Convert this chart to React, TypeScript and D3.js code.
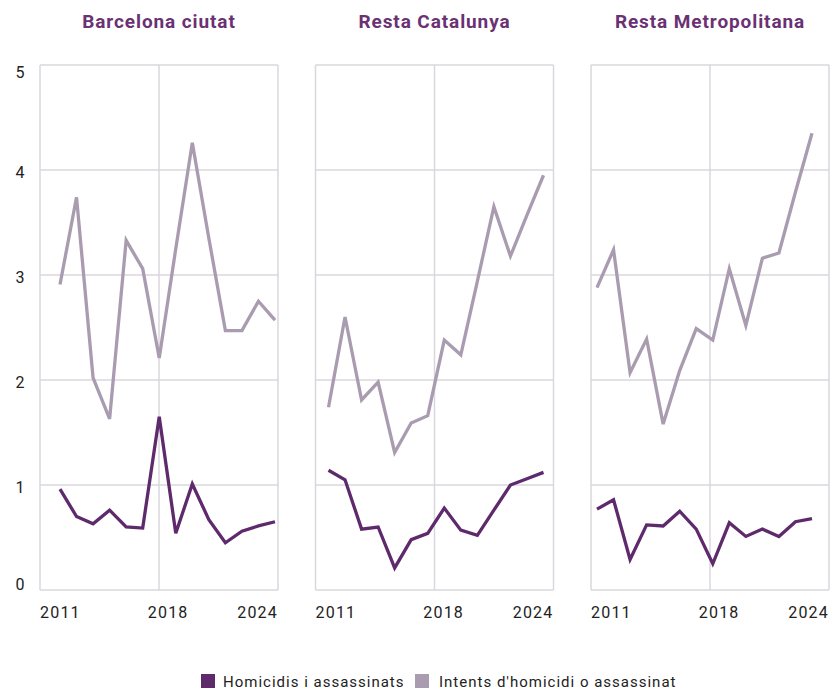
import React, { useEffect, useRef } from 'react';
import * as d3 from 'd3';

// data (rates per 100.000 inhabitants)
const years = [2011, 2012, 2013, 2014, 2015, 2016, 2017, 2018, 2019, 2020, 2021, 2022, 2023, 2024];
const regions = ['Barcelona ciutat', 'Resta Catalunya', 'Resta Metropolitana'];
const seriesNames = ['Homicidis i assassinats', "Intents d'homicidi o assassinat"];

const homicidisBcn = [0.96, 0.7, 0.63, 0.76, 0.6, 0.59, 1.65, 0.54, 1.01, 0.67, 0.45, 0.56, 0.61, 0.65];
const intentsBcn = [2.91, 3.74, 2.02, 1.63, 3.33, 3.06, 2.21, 3.25, 4.26, 3.35, 2.47, 2.47, 2.75, 2.57];
const homicidisCat = [1.14, 1.05, 0.58, 0.6, 0.21, 0.48, 0.54, 0.78, 0.57, 0.52, 0.76, 1.0, 1.06, 1.12];
const intentsCat = [1.74, 2.6, 1.81, 1.98, 1.31, 1.59, 1.66, 2.38, 2.24, 2.94, 3.65, 3.18, 3.57, 3.95];
const homicidisMet = [0.77, 0.86, 0.29, 0.62, 0.61, 0.75, 0.58, 0.25, 0.64, 0.51, 0.58, 0.51, 0.65, 0.68];
const intentsMet = [2.88, 3.24, 2.07, 2.39, 1.58, 2.09, 2.49, 2.38, 3.06, 2.52, 3.16, 3.21, 3.79, 4.35];

const yTicks = [0, 1, 2, 3, 4, 5];
const xTickYears = [2011, 2018, 2024];

const App = () => {
  const svgRef = useRef(null);

  useEffect(() => {
    const svg = d3.select(svgRef.current);
    svg.selectAll('*').remove();

    const W = 832;
    const H = 691;
    const font = 'Roboto, "Noto Sans", sans-serif';
    const purple = '#5e2a6c';
    const grey = '#a99bb0';
    const gridColor = '#dad6de';
    const titleColor = '#6a3173';

    svg.attr('width', W).attr('height', H);

    const panelW = 238;
    const panelX = d3.scalePoint().domain(regions).range([40, 591]);
    const yScale = d3.scaleLinear().domain([0, 5]).range([590, 65]);

    const panelData = [
      [homicidisBcn, intentsBcn],
      [homicidisCat, intentsCat],
      [homicidisMet, intentsMet],
    ];
    const colors = [purple, grey];

    regions.forEach((region, i) => {
      const left = panelX(region);
      const g = svg.append('g');

      // frame scale used for the tick labels
      const frameX = d3.scaleLinear().domain([years[0], years[years.length - 1]]).range([left, left + panelW]);
      // lines sit a bit shifted inside each frame, like in the original
      const shift = 20 - 7 * i;
      const lineX = d3.scaleLinear()
        .domain([years[0], years[years.length - 1]])
        .range([left + shift, left + shift + 215]);

      // horizontal gridlines
      g.selectAll('.hgrid')
        .data(yTicks)
        .enter()
        .append('line')
        .attr('x1', left)
        .attr('x2', left + panelW)
        .attr('y1', (d) => yScale(d))
        .attr('y2', (d) => yScale(d))
        .attr('stroke', gridColor)
        .attr('stroke-width', 1.5);

      // vertical gridlines: edges and middle
      g.selectAll('.vgrid')
        .data([0, 0.5, 1])
        .enter()
        .append('line')
        .attr('x1', (d) => left + d * panelW)
        .attr('x2', (d) => left + d * panelW)
        .attr('y1', yScale(0))
        .attr('y2', yScale(5))
        .attr('stroke', gridColor)
        .attr('stroke-width', 1.5);

      // title
      g.append('text')
        .attr('x', left + panelW / 2)
        .attr('y', 28)
        .attr('text-anchor', 'middle')
        .attr('font-family', font)
        .attr('font-weight', 700)
        .attr('font-size', 19)
        .attr('letter-spacing', 0.9)
        .attr('fill', titleColor)
        .text(region);

      // x tick labels
      g.selectAll('.xlab')
        .data(xTickYears)
        .enter()
        .append('text')
        .attr('x', (d) => frameX(d))
        .attr('y', 618)
        .attr('text-anchor', (d, j) => (j === 0 ? 'start' : j === xTickYears.length - 1 ? 'end' : 'middle'))
        .attr('font-family', font)
        .attr('font-size', 16)
        .attr('letter-spacing', 1.2)
        .attr('fill', '#222')
        .text((d) => d);

      // lines
      const line = d3.line()
        .x((d, j) => lineX(years[j]))
        .y((d) => yScale(d));

      [1, 0].forEach((s) => {
        g.append('path')
          .datum(panelData[i][s])
          .attr('fill', 'none')
          .attr('stroke', colors[s])
          .attr('stroke-width', 3.3)
          .attr('d', line);
      });
    });

    // y axis labels
    svg.append('g')
      .selectAll('text')
      .data(yTicks)
      .enter()
      .append('text')
      .attr('x', 20)
      .attr('y', (d) => Math.min(Math.max(yScale(d) + 2, 72), 584))
      .attr('dy', '0.35em')
      .attr('text-anchor', 'middle')
      .attr('font-family', font)
      .attr('font-size', 16)
      .attr('fill', '#222')
      .text((d) => d);

    // legend
    const legend = svg.append('g');
    const legendX = [201, 415];
    const textX = [223, 439];
    seriesNames.forEach((name, s) => {
      legend.append('rect')
        .attr('x', legendX[s])
        .attr('y', 674)
        .attr('width', 14)
        .attr('height', 14)
        .attr('fill', colors[s]);
      legend.append('text')
        .attr('x', textX[s])
        .attr('y', 687)
        .attr('font-family', font)
        .attr('font-size', 15)
        .attr('letter-spacing', 1)
        .attr('fill', '#222')
        .text(name);
    });
  }, []);

  return <svg ref={svgRef} style={{ position: 'absolute', left: 0, top: 0 }}></svg>;
};

export default App;
